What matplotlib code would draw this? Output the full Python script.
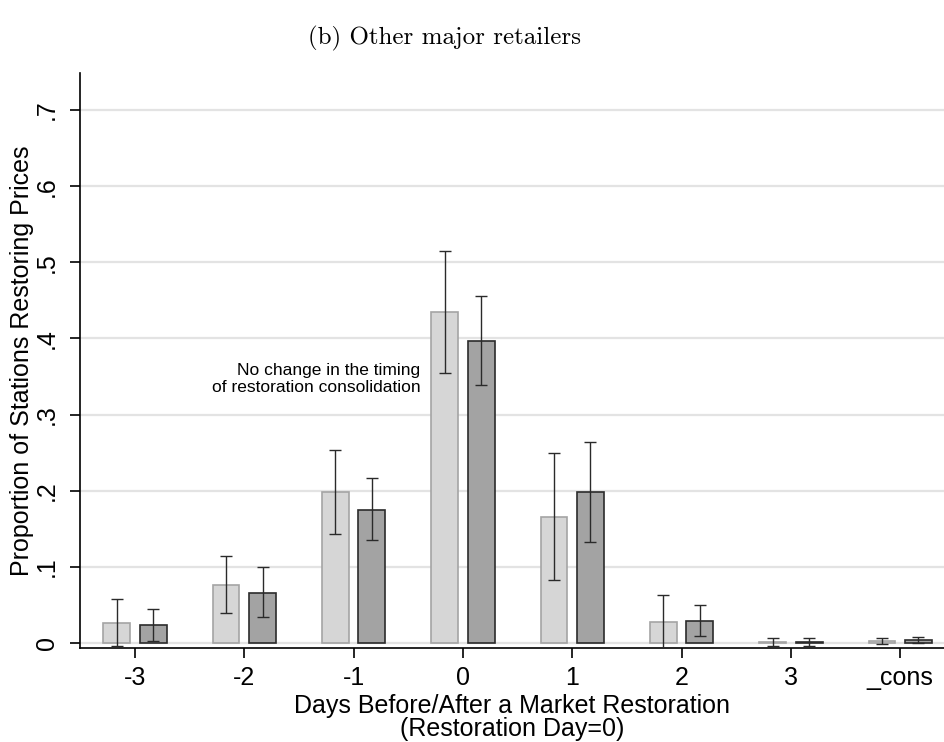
import numpy as np
import matplotlib
matplotlib.use("Agg")
import matplotlib.pyplot as plt

# coeficientes por día relativo a la restauración
dias = ["-3", "-2", "-1", "0", "1", "2", "3", "_cons"]

antes = [0.026, 0.076, 0.198, 0.435, 0.166, 0.027, 0.001, 0.003]
antes_lo = [-0.004, 0.039, 0.143, 0.355, 0.083, -0.010, -0.004, -0.001]
antes_hi = [0.058, 0.114, 0.254, 0.515, 0.250, 0.063, 0.006, 0.006]

despues = [0.023, 0.066, 0.175, 0.397, 0.198, 0.029, 0.001, 0.004]
despues_lo = [0.002, 0.034, 0.135, 0.339, 0.132, 0.009, -0.004, 0.000]
despues_hi = [0.045, 0.100, 0.217, 0.456, 0.264, 0.050, 0.006, 0.008]

plt.rcParams['font.family'] = ['Liberation Sans', 'DejaVu Sans']

fig = plt.figure(figsize=(9.45, 7.42), dpi=100)
ax = fig.add_axes([80 / 945, 1 - 648 / 742, 865 / 945, (648 - 72.7) / 742])

x = np.arange(len(dias))
off = 0.167
ancho = 0.245

ax.bar(x - off, antes, width=ancho, color="#d6d6d6", edgecolor="#a4a4a4",
       linewidth=1.2, zorder=2)
ax.bar(x + off, despues, width=ancho, color="#a3a3a3", edgecolor="#2b2b2b",
       linewidth=1.2, zorder=2)

ant = np.array(antes)
des = np.array(despues)
ax.errorbar(x - off, antes,
            yerr=[ant - np.array(antes_lo), np.array(antes_hi) - ant],
            fmt="none", ecolor="#2a2a2a", elinewidth=1.0, capsize=4.5,
            capthick=1.0, zorder=3)
ax.errorbar(x + off, despues,
            yerr=[des - np.array(despues_lo), np.array(despues_hi) - des],
            fmt="none", ecolor="#2a2a2a", elinewidth=1.0, capsize=4.5,
            capthick=1.0, zorder=3)

ax.set_xlim(-0.503, 7.41)
ax.set_ylim(-0.0066, 0.749)

ax.set_yticks(np.arange(0, 0.71, 0.1))
ax.set_yticklabels(["0", ".1", ".2", ".3", ".4", ".5", ".6", ".7"],
                   rotation=90, va="center", fontsize=18)
ax.set_xticks(x)
ax.set_xticklabels(dias, fontsize=18)
ax.tick_params(axis="y", length=7, width=1.2, pad=8)
ax.tick_params(axis="x", length=7, width=1.2, pad=6)

ax.grid(axis="y", color="#e3e3e3", linewidth=1.6, zorder=0)
ax.set_axisbelow(True)
for s in ["top", "right"]:
    ax.spines[s].set_visible(False)
for s in ["left", "bottom"]:
    ax.spines[s].set_linewidth(1.2)

ax.set_ylabel("Proportion of Stations Restoring Prices", fontsize=18)
ax.yaxis.set_label_coords(-0.053, 0.5)
ax.set_xlabel("Days Before/After a Market Restoration\n(Restoration Day=0)",
              fontsize=18, linespacing=0.92, labelpad=3)

ax.text(3 - 0.39, 0.347, "No change in the timing\nof restoration consolidation",
        ha="right", va="center", fontsize=12.5, linespacing=1.15)

fig.text(445 / 945, 1 - 38 / 742, "(b) Other major retailers",
         family="cmr10", fontsize=18, ha="center", va="center")

fig.savefig("out.png", dpi=100)
